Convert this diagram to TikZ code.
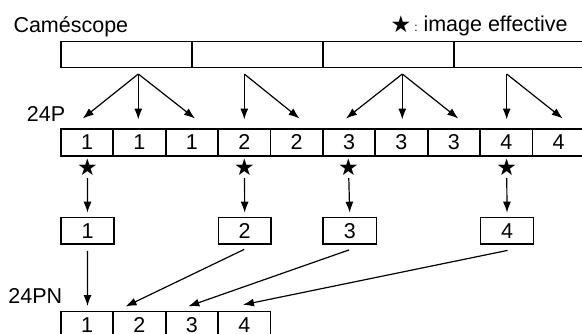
\documentclass[tikz,border=0pt]{standalone}
\usepackage{fontspec}
\setmainfont{Liberation Sans}
\newfontfamily\symfont{DejaVu Sans}
\usetikzlibrary{arrows.meta}
\begin{document}
\begin{tikzpicture}[x=1pt,y=-1pt,
  cell/.style={draw, line width=1.7pt, minimum width=52.4pt, minimum height=26.5pt,
    inner sep=0pt, anchor=north west, font=\fontsize{21.5}{25}\selectfont},
  seg/.style={draw, line width=1.7pt, minimum width=131pt, minimum height=26pt,
    inner sep=0pt, anchor=north west},
  lab/.style={anchor=base west, inner sep=0pt, font=\fontsize{21.5}{25}\selectfont},
  arr/.style={line width=1.2pt, -{Latex[length=11pt,width=8pt]}},
  staro/.style={font=\symfont\fontsize{23}{25}\selectfont, inner sep=0pt}]
\useasboundingbox (0,0) rectangle (582,333);
\clip (0,0) rectangle (582,333);
\fill[white] (0,0) rectangle (582,333);

% labels
\node[lab] (lcam) at (13.3,32) {Caméscope};
\node[staro] (lstar) at (401,24.5) {★};
\node[anchor=base, inner sep=0pt, font=\fontsize{12}{14}\selectfont] (lcolon) at (416,31) {:};
\node[lab] (limg) at (423.3,31.7) {image effective};
\node[lab] (l24p) at (26.7,121.7) {24P};
\node[lab] (l24pn) at (8.3,303.3) {24PN};

% camcorder segments
\foreach \i in {1,...,4}
  \node[seg] (c\i) at ({60+131*(\i-1)},40.7) {};

% 24P row
\foreach \i/\t in {1/1,2/1,3/1,4/2,5/2,6/3,7/3,8/3,9/4,10/4}
  \node[cell] (p\i) at ({60+52.4*(\i-1)},128.3) {\t};

% fan sources and tips
\coordinate (s1) at (138.3,74);
\coordinate (s2) at (244.3,74);
\coordinate (s3) at (402.3,74);
\coordinate (s4) at (506.7,74);
\coordinate (t1) at (82.7,118.5);
\coordinate (t2) at (138.3,119.5);
\coordinate (t3) at (195,118.5);
\coordinate (t4) at (244.3,119.5);
\coordinate (t5) at (299.5,118.5);
\coordinate (t6) at (346,118.5);
\coordinate (t7) at (402.3,119.5);
\coordinate (t8) at (458.3,118.5);
\coordinate (t9) at (506.7,119.5);
\coordinate (t10) at (562.7,118.5);
\foreach \s/\t in {s1/t1,s1/t2,s1/t3,s2/t4,s2/t5,s3/t6,s3/t7,s3/t8,s4/t9,s4/t10}
  \draw[arr] (\s) -- (\t);

% stars
\node[staro] (st1) at (87.5,167) {★};
\node[staro] (st2) at (244.5,167) {★};
\node[staro] (st3) at (348.5,167) {★};
\node[staro] (st4) at (506.7,167) {★};

% selected boxes
\node[cell, minimum width=53.3pt] (b1) at (60,216.7) {1};
\node[cell, minimum width=52.3pt] (b2) at (217.7,216.7) {2};
\node[cell, minimum width=53.3pt] (b3) at (322.3,216.7) {3};
\node[cell, minimum width=53pt] (b4) at (479.7,216.7) {4};

\foreach \i in {1,...,4}
  \draw[arr, shorten <=11pt, shorten >=4pt] (st\i.center) -- (b\i.north);

% 24PN row
\foreach \i in {1,...,4}
  \node[cell] (q\i) at ({60+52.4*(\i-1)},310.5) {\i};

\coordinate (e1) at (87.5,306);
\coordinate (e2) at (125.5,306.5);
\coordinate (e3) at (188.3,306.3);
\coordinate (e4) at (243,304.8);
\draw[arr] ([yshift=-6pt]b1.south) -- (e1);
\draw[arr] ([xshift=-0.5pt,yshift=-4.5pt]b2.south) -- (e2);
\draw[arr] ([xshift=-0.7pt,yshift=-5pt]b3.south) -- (e3);
\draw[arr] ([xshift=0.5pt,yshift=-5.5pt]b4.south) -- (e4);
\end{tikzpicture}
\end{document}
